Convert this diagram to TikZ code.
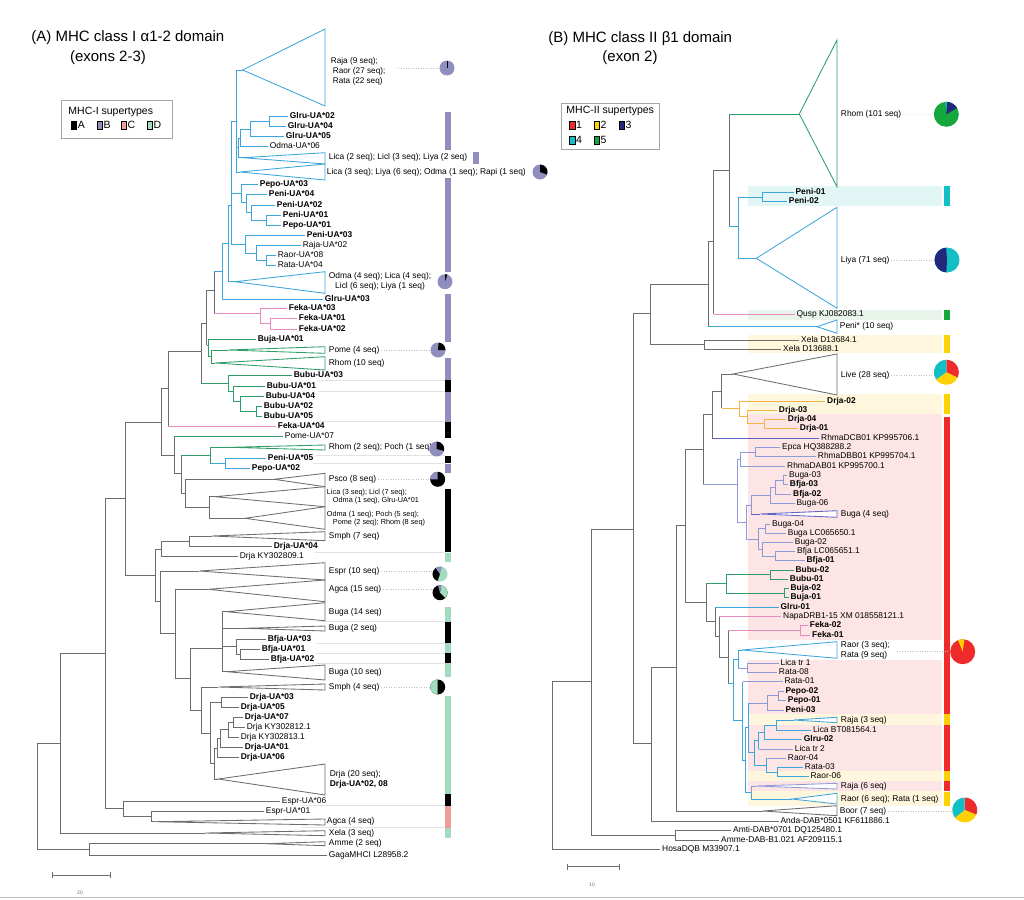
\documentclass[tikz,border=0pt]{standalone}
\usepackage{fontspec}
\setmainfont{Liberation Sans}
\newcommand{\tipfont}{\fontsize{8.4}{9.8}\selectfont}
\newcommand{\tipfonts}{\fontsize{7.3}{8.4}\selectfont}
\newcommand{\legfont}{\fontsize{10.5}{12}\selectfont}
\newcommand{\ttlfont}{\fontsize{15}{18}\selectfont}
\definecolor{tg}{HTML}{6D6D6D}
\definecolor{bl}{HTML}{3DA5DC}
\definecolor{gn}{HTML}{2E9D68}
\definecolor{pk}{HTML}{E889C0}
\definecolor{org}{HTML}{F6B34A}
\definecolor{pu}{HTML}{5F63C4}
\definecolor{lv}{HTML}{8E9AD6}
\definecolor{stB}{HTML}{8F8EBF}
\definecolor{stC}{HTML}{F29A98}
\definecolor{stD}{HTML}{A2DCBE}
\definecolor{s1}{HTML}{EE2A2A}
\definecolor{s2}{HTML}{FFD100}
\definecolor{s3}{HTML}{22297A}
\definecolor{s4}{HTML}{14BEC5}
\definecolor{s5}{HTML}{16A73C}
\definecolor{bandC}{HTML}{E3F6F6}
\definecolor{bandG}{HTML}{E9F5EA}
\definecolor{bandY}{HTML}{FFF7DD}
\definecolor{bandR}{HTML}{FDE5E5}
\tikzset{
  tip/.style={anchor=west, inner sep=1.5pt, font=\tipfont, text height=6pt, text depth=1.8pt},
  btip/.style={tip, font=\tipfont\bfseries},
  clab/.style={anchor=west, inner sep=1.5pt, font=\tipfont, align=left},
  guide/.style={gray!50, dotted, line width=0.5pt},
  rowline/.style={gray!22, line width=0.6pt},
  keybox/.style={line width=0.4pt, draw=black},
}
% branch: parent |- child in one colour
\newcommand{\edg}[3]{\draw[#1] (#2) |- (#3);}
% branch: vertical in parent colour, horizontal in child colour
\newcommand{\edgx}[4]{\draw[#1] (#3) -- (#3 |- #4); \draw[#2] (#3 |- #4) -- (#4);}
% collapsed clade: name, apex, top, bottom, colour
\newcommand{\clade}[5]{\coordinate (#1) at (#2); \draw[#5, fill=white] (#1) -- (\cladex,#3) -- (\cladex,#4) -- cycle;}
% pie slice: centre, radius, from, to, colour (0 = 3 o'clock, clockwise)
\newcommand{\pieslice}[5]{\fill[#5] (#1) -- ++(#3:#2) arc[start angle=#3, end angle=#4, radius=#2] -- cycle;}
\begin{document}
\begin{tikzpicture}[x=1pt,y=1pt,yscale=-1,line width=0.85pt]
\useasboundingbox (0,0) rectangle (1024,899);
%titles
\node[anchor=west, font=\ttlfont, inner sep=0pt] (titA) at (31,37.5) {(A) MHC class I α1-2 domain};
\node[font=\ttlfont, inner sep=0pt] (titA2) at (108,58) {(exons 2-3)};
\node[anchor=west, font=\ttlfont, inner sep=0pt] (titB) at (548,38.5) {(B) MHC class II β1 domain};
\node[font=\ttlfont, inner sep=0pt] (titB2) at (630,58) {(exon 2)};
%
%legends
\draw[gray!70, line width=1pt] (61.7,100) rectangle (172.3,138.3);
\node[anchor=west, font=\legfont, inner sep=0pt] (legAt) at (68,111.7) {MHC-I supertypes};
\foreach \c/\l/\x in {black/A/71, stB/B/96.7, stC/C/120.7, stD/D/146.7} {
    \draw[keybox, fill=\c] (\x,121.5) rectangle ++(5.5,7.5);
    \node[anchor=west, font=\legfont, inner sep=0pt] (key\l) at (\x+6.5,125.3) {\l};
}
\draw[gray!70, line width=1pt] (561.3,103.3) rectangle (659.3,149.3);
\node[anchor=west, font=\legfont, inner sep=0pt] (legBt) at (566,110.7) {MHC-II supertypes};
\foreach \c/\l/\x/\y in {s1/1/569.3/125.3, s2/2/593.7/125.3, s3/3/618.7/125.3, s4/4/569.3/140, s5/5/593.7/140} {
    \draw[keybox, fill=\c] (\x,\y-3.8) rectangle ++(5.5,7.5);
    \node[anchor=west, font=\legfont, inner sep=0pt] (key\l) at (\x+6.5,\y) {\l};
}
%
%supertype columns and row shading
\foreach \y/\x in {380/318, 391.7/318, 421.7/318, 455.7/316, 463.3/313, 552.7/315, 621.7/318, 643.3/316, 653.3/316, 663.3/316, 805.7/302, 827.7/302}
    \draw[rowline] (\x,\y) -- (445,\y);
\foreach \c/\a/\b in {stB/111.7/150, stB/178.3/271.7, stB/294/341.7, stB/358/380, black/380/391.7, stB/391.7/421.7, black/421.7/438, black/455.7/463.3, stB/464/472.7, black/489.3/551.7, stD/552.7/561.7, stD/606.7/621.7, black/621.7/643.3, stD/643.3/653.3, black/653.3/663.3, stD/663.3/676.7, stD/696/794.3, black/794.3/805.7, stC/805.7/827.7, stD/827.7/837.7}
    \fill[\c] (445,\a) rectangle (450.5,\b);
\fill[stB] (473,151.7) rectangle (479,164);
\foreach \c/\a/\b in {bandC/185.7/206, bandG/310/320, bandY/335/353, bandY/394/414, bandR/414/640, bandR/660/714, bandY/714/725, bandR/725/771, bandY/771/781, bandR/781/790.5, bandY/790.5/805.7}
    \fill[\c] (748,\a) rectangle (942,\b);
\foreach \c/\a/\b in {s4/185.7/206, s5/310/320, s2/335/353, s2/394/414, s1/416.7/714, s2/714/725, s1/725/771, s2/771/781, s1/781/790.5, s2/791.5/805.7}
    \fill[\c] (944.3,\a) rectangle (950.3,\b);
%
%tree A: tips
\def\cladex{325}
\node[btip] (glruua2) at (288,116.7) {Glru-UA*02};
\node[btip] (glruua4) at (286,126.7) {Glru-UA*04};
\node[btip] (glruua5) at (284,136.7) {Glru-UA*05};
\node[tip] (odmaua6) at (268,146.7) {Odma-UA*06};
\node[btip] (pepoua3) at (258,184.3) {Pepo-UA*03};
\node[btip] (peniua4) at (267,194.3) {Peni-UA*04};
\node[btip] (peniua2) at (275,205) {Peni-UA*02};
\node[btip] (peniua1) at (281,215) {Peni-UA*01};
\node[btip] (pepoua1) at (281,225) {Pepo-UA*01};
\node[btip] (peniua3) at (305,235.7) {Peni-UA*03};
\node[tip] (rajaua2) at (301,245.7) {Raja-UA*02};
\node[tip] (raorua8) at (276,255.7) {Raor-UA*08};
\node[tip] (rataua4) at (276,265.7) {Rata-UA*04};
\node[btip] (glruua3) at (323,299) {Glru-UA*03};
\node[btip] (fekaua3) at (287,308.7) {Feka-UA*03};
\node[btip] (fekaua1) at (297,318.7) {Feka-UA*01};
\node[btip] (fekaua2) at (297,329) {Feka-UA*02};
\node[btip] (bujaua1) at (256,339) {Buja-UA*01};
\node[btip] (bubuua3) at (292,375.7) {Bubu-UA*03};
\node[btip] (bubuua1) at (265,386) {Bubu-UA*01};
\node[btip] (bubuua4) at (264,396) {Bubu-UA*04};
\node[btip] (bubuua2) at (262,406) {Bubu-UA*02};
\node[btip] (bubuua5) at (262,416) {Bubu-UA*05};
\node[btip] (fekaua4) at (276,426.7) {Feka-UA*04};
\node[tip] (pomeua7) at (283,436.7) {Pome-UA*07};
\node[btip] (peniua5) at (266,458.3) {Peni-UA*05};
\node[btip] (pepoua2) at (250,468.3) {Pepo-UA*02};
\node[btip] (drjaua4) at (272,546.7) {Drja-UA*04};
\node[tip] (drjaky9) at (238,556.7) {Drja KY302809.1};
\node[btip] (bfjaua3) at (266,639) {Bfja-UA*03};
\node[btip] (bfjaua1) at (260,649) {Bfja-UA*01};
\node[btip] (bfjaua2) at (269,659) {Bfja-UA*02};
\node[btip] (drjaua3) at (248,697.3) {Drja-UA*03};
\node[btip] (drjaua5) at (239,707.3) {Drja-UA*05};
\node[btip] (drjaua7) at (243,717.3) {Drja-UA*07};
\node[tip] (drjaky2) at (245,727.3) {Drja KY302812.1};
\node[tip] (drjaky3) at (239,737.3) {Drja KY302813.1};
\node[btip] (drjaua1) at (243,747.3) {Drja-UA*01};
\node[btip] (drjaua6) at (239,757.3) {Drja-UA*06};
\node[tip] (esprua6) at (280,801) {Espr-UA*06};
\node[tip] (esprua1) at (264,811) {Espr-UA*01};
\node[tip] (gaga) at (327,855) {GagaMHCI L28958.2};
%collapsed clades A
\clade{tRaja}{242.7,70}{29}{106}{bl}
\clade{tLica2}{242.7,157.7}{152.7}{164}{bl}
\clade{tLica3}{240,172}{164}{180}{bl}
\clade{tOdma4}{235,281.7}{271.7}{293.3}{bl}
\clade{tPome}{228,350}{346.7}{353.3}{gn}
\clade{tRhom10}{215,363}{356.7}{370}{gn}
\clade{tRhom2}{230,447.3}{445}{450}{gn}
\clade{tPsco}{274,479.3}{473.3}{486.7}{tg}
\clade{tLica37}{215,496.7}{486.7}{506.7}{tg}
\clade{tOdma1}{245,518.3}{506.7}{529.3}{tg}
\clade{tSmph7}{211.7,536}{531.7}{540.7}{tg}
\clade{tEspr}{199.3,571}{562.7}{580}{tg}
\clade{tAgca15}{208.3,589.3}{580}{601.7}{tg}
\clade{tBuga14}{226.7,611.7}{602.7}{620.7}{tg}
\clade{tBuga2}{245,628.3}{626}{631}{tg}
\clade{tBuga10}{226.7,671.7}{665}{680}{tg}
\clade{tSmph4}{218.3,687}{684}{690}{tg}
\clade{tDrja20}{218.3,779}{764}{795}{tg}
\clade{tAgca4}{155,821.7}{819}{825}{tg}
\clade{tXela}{205,833}{830.7}{835.7}{tg}
\clade{tAmme}{265.7,843.7}{841.7}{845.7}{tg}
\node[clab, font=\fontsize{8.2}{10}\selectfont] (lRaja) at (329,71) {Raja (9 seq);\\\hspace{2pt}Raor (27 seq);\\\hspace{2pt}Rata (22 seq)};
\node[tip] (lLica2) at (327,157.7) {Lica (2 seq); Licl (3 seq); Liya (2 seq)};
\node[tip] (lLica3) at (325,172) {Lica (3 seq); Liya (6 seq); Odma (1 seq); Rapi (1 seq)};
\node[clab, align=center] (lOdma4) at (327,281.7) {Odma (4 seq); Lica (4 seq);\\Licl (6 seq); Liya (1 seq)};
\node[tip] (lPome) at (327,350) {Pome (4 seq)};
\node[tip] (lRhom10) at (327,363) {Rhom (10 seq)};
\node[tip] (lRhom2) at (327,447.3) {Rhom (2 seq); Poch (1 seq)};
\node[tip] (lPsco) at (327,479.3) {Psco (8 seq)};
\node[clab, font=\tipfonts] (lLica37) at (325,496.5) {Lica (3 seq); Licl (7 seq);\\\hspace{6pt}Odma (1 seq), Glru-UA*01};
\node[clab, font=\tipfonts] (lOdma1) at (325,518.5) {Odma (1 seq); Poch (5 seq);\\\hspace{6pt}Pome (2 seq); Rhom (8 seq)};
\node[tip] (lSmph7) at (327,536) {Smph (7 seq)};
\node[tip] (lEspr) at (327,571) {Espr (10 seq)};
\node[tip] (lAgca15) at (327,589.3) {Agca (15 seq)};
\node[tip] (lBuga14) at (327,612) {Buga (14 seq)};
\node[tip] (lBuga2) at (327,628.3) {Buga (2 seq)};
\node[tip] (lBuga10) at (327,672) {Buga (10 seq)};
\node[tip] (lSmph4) at (327,687) {Smph (4 seq)};
\node[clab, font=\fontsize{8.4}{10}\selectfont] (lDrja20) at (328,779) {Drja (20 seq);\\\textbf{Drja-UA*02, 08}};
\node[tip] (lAgca4) at (325,821.7) {Agca (4 seq)};
\node[tip] (lXela) at (327,833) {Xela (3 seq)};
\node[tip] (lAmme) at (327,843.7) {Amme (2 seq)};
%internal nodes A
\coordinate (ng1) at (269,121.7);
\coordinate (ng2) at (250,129);
\coordinate (ng3) at (240,138);
\coordinate (ng4) at (238.3,147);
\coordinate (nb5) at (236.7,121);
\coordinate (np1) at (266.7,220);
\coordinate (np2) at (251.7,212);
\coordinate (np3) at (246.7,202);
\coordinate (np4) at (241.7,193);
\coordinate (nr1) at (266.7,260.7);
\coordinate (nr2) at (256,253);
\coordinate (nr3) at (245,244);
\coordinate (nb4) at (231.7,205);
\coordinate (nb3) at (228.3,243);
\coordinate (nb2) at (222.3,271);
\coordinate (nf1) at (270,323.9);
\coordinate (nf2) at (260,313.7);
\coordinate (nk1) at (214.3,290);
\coordinate (nu2) at (211.7,356.5);
\coordinate (nu1) at (208.3,345);
\coordinate (nk2) at (206.7,323);
\coordinate (nv4) at (256,411);
\coordinate (nv3) at (240,401);
\coordinate (nv2) at (233.3,391);
\coordinate (nv1) at (228.3,383);
\coordinate (nk3) at (201,351.7);
\coordinate (nk4) at (168.3,388);
\coordinate (nm5) at (225,463.3);
\coordinate (nm3) at (210,455.3);
\coordinate (nm6) at (209.3,507.5);
\coordinate (nm4) at (185,493);
\coordinate (nm2) at (181.7,473);
\coordinate (nm1) at (174,455);
\coordinate (nk5) at (161.7,422.3);
\coordinate (ns3) at (189.3,541.3);
\coordinate (ns2) at (161.7,549);
\coordinate (ns8b) at (240.7,654);
\coordinate (ns8) at (236.7,646.5);
\coordinate (ns7) at (222.7,648);
\coordinate (nd0) at (221.7,702.3);
\coordinate (nd1) at (233.3,722.3);
\coordinate (nd2) at (228.3,729.8);
\coordinate (nd3) at (220,738.5);
\coordinate (nd4) at (217.3,748);
\coordinate (nd5) at (214.7,763.5);
\coordinate (nd6) at (210.7,733);
\coordinate (ns9) at (201,710);
\coordinate (ns6) at (190,678);
\coordinate (ns5) at (175,633.3);
\coordinate (ns4) at (160.7,601.7);
\coordinate (ns1) at (155,575);
\coordinate (nk6) at (125,498.7);
\coordinate (ne2) at (151.7,816.3);
\coordinate (ne1) at (123.3,808.7);
\coordinate (nk7) at (105,653.7);
\coordinate (nk8) at (60,743.3);
\coordinate (nk9) at (89,849.3);
\coordinate (nroot) at (37.7,796);
%branches A
\edg{bl}{ng1}{glruua2.west} \edg{bl}{ng1}{glruua4.west}
\edg{bl}{ng2}{ng1} \edg{bl}{ng2}{glruua5.west}
\edg{bl}{ng3}{ng2} \edg{bl}{ng3}{odmaua6.west}
\edg{bl}{ng4}{ng3} \edg{bl}{ng4}{tLica2}
\edg{bl}{nb5}{tRaja} \edg{bl}{nb5}{ng4} \edg{bl}{nb5}{tLica3}
\edg{bl}{np1}{peniua1.west} \edg{bl}{np1}{pepoua1.west}
\edg{bl}{np2}{peniua2.west} \edg{bl}{np2}{np1}
\edg{bl}{np3}{peniua4.west} \edg{bl}{np3}{np2}
\edg{bl}{np4}{pepoua3.west} \edg{bl}{np4}{np3}
\edg{bl}{nr1}{raorua8.west} \edg{bl}{nr1}{rataua4.west}
\edg{bl}{nr2}{rajaua2.west} \edg{bl}{nr2}{nr1}
\edg{bl}{nr3}{peniua3.west} \edg{bl}{nr3}{nr2}
\edg{bl}{nb4}{nb5} \edg{bl}{nb4}{np4} \edg{bl}{nb4}{nr3}
\edg{bl}{nb3}{nb4} \edg{bl}{nb3}{tOdma4}
\edg{bl}{nb2}{nb3} \edg{bl}{nb2}{glruua3.west}
\edg{pk}{nf1}{fekaua1.west} \edg{pk}{nf1}{fekaua2.west}
\edg{pk}{nf2}{fekaua3.west} \edg{pk}{nf2}{nf1}
\edgx{tg}{bl}{nk1}{nb2} \edgx{tg}{pk}{nk1}{nf2}
\edg{gn}{nu2}{tPome} \edg{gn}{nu2}{tRhom10}
\edg{gn}{nu1}{bujaua1.west} \edg{gn}{nu1}{nu2}
\edg{tg}{nk2}{nk1} \edgx{tg}{gn}{nk2}{nu1}
\edg{gn}{nv4}{bubuua2.west} \edg{gn}{nv4}{bubuua5.west}
\edg{gn}{nv3}{bubuua4.west} \edg{gn}{nv3}{nv4}
\edg{gn}{nv2}{bubuua1.west} \edg{gn}{nv2}{nv3}
\edg{gn}{nv1}{bubuua3.west} \edg{gn}{nv1}{nv2}
\edg{tg}{nk3}{nk2} \edgx{tg}{gn}{nk3}{nv1}
\edg{tg}{nk4}{nk3} \edgx{tg}{pk}{nk4}{fekaua4.west}
\edg{bl}{nm5}{peniua5.west} \edg{bl}{nm5}{pepoua2.west}
\edg{gn}{nm3}{tRhom2} \edgx{gn}{bl}{nm3}{nm5}
\edg{tg}{nm6}{tLica37} \edg{tg}{nm6}{tOdma1}
\edg{tg}{nm4}{tPsco} \edg{tg}{nm4}{nm6}
\edgx{tg}{gn}{nm2}{nm3} \edg{tg}{nm2}{nm4}
\edgx{tg}{gn}{nm1}{pomeua7.west} \edg{tg}{nm1}{nm2}
\edg{tg}{nk5}{nk4} \edg{tg}{nk5}{nm1}
\edg{tg}{ns3}{tSmph7} \edg{tg}{ns3}{drjaua4.west}
\edg{tg}{ns2}{ns3} \edg{tg}{ns2}{drjaky9.west}
\edg{tg}{ns8b}{bfjaua1.west} \edg{tg}{ns8b}{bfjaua2.west}
\edg{tg}{ns8}{bfjaua3.west} \edg{tg}{ns8}{ns8b}
\edg{tg}{ns7}{tBuga14} \edg{tg}{ns7}{tBuga2} \edg{tg}{ns7}{ns8} \edg{tg}{ns7}{tBuga10}
\edg{tg}{nd0}{drjaua3.west} \edg{tg}{nd0}{drjaua5.west}
\edg{tg}{nd1}{drjaua7.west} \edg{tg}{nd1}{drjaky2.west}
\edg{tg}{nd2}{nd1} \edg{tg}{nd2}{drjaky3.west}
\edg{tg}{nd3}{nd2} \edg{tg}{nd3}{drjaua1.west}
\edg{tg}{nd4}{nd3} \edg{tg}{nd4}{drjaua6.west}
\edg{tg}{nd5}{nd4} \edg{tg}{nd5}{tDrja20}
\edg{tg}{nd6}{nd0} \edg{tg}{nd6}{nd5}
\edg{tg}{ns9}{tSmph4} \edg{tg}{ns9}{nd6}
\edg{tg}{ns6}{ns7} \edg{tg}{ns6}{ns9}
\edg{tg}{ns5}{tAgca15} \edg{tg}{ns5}{ns6}
\edg{tg}{ns4}{tEspr} \edg{tg}{ns4}{ns5}
\edg{tg}{ns1}{ns2} \edg{tg}{ns1}{ns4}
\edg{tg}{nk6}{nk5} \edg{tg}{nk6}{ns1}
\edg{tg}{ne2}{esprua1.west} \edg{tg}{ne2}{tAgca4}
\edg{tg}{ne1}{esprua6.west} \edg{tg}{ne1}{ne2}
\edg{tg}{nk7}{nk6} \edg{tg}{nk7}{ne1}
\edg{tg}{nk8}{nk7} \edg{tg}{nk8}{tXela}
\edg{tg}{nk9}{tAmme} \edg{tg}{nk9}{gaga.west}
\edg{tg}{nroot}{nk8} \edg{tg}{nroot}{nk9}
%pies A
\draw[guide] (398,68.3) -- (439,68.3);
\draw[guide] (lPome.east) -- (430,350);
\draw[guide] (lPsco.east) -- (430,479.3);
\draw[guide] (lEspr.east) -- (432,571);
\draw[guide] (lAgca15.east) -- (432,589.3);
\draw[guide] (lSmph4.east) -- (430,687);
\fill[stB] (447,68) circle[radius=7.5];
\draw[black, line width=0.7pt] (447,68) -- ++(0,-7.5);
\fill[stB] (540,172) circle[radius=7.5];
\pieslice{540,172}{7.5}{-90}{20}{black}
\fill[stB] (445,281.7) circle[radius=7.5];
\pieslice{445,281.7}{7.5}{-90}{-72}{black}
\fill[stB] (438,350) circle[radius=7.5];
\pieslice{438,350}{7.5}{-85}{0}{black}
\fill[stB] (436.7,449) circle[radius=7.5];
\pieslice{436.7,449}{7.5}{-90}{15}{black}
\fill[black] (437.7,479.3) circle[radius=7.5];
\pieslice{437.7,479.3}{7.5}{180}{270}{stB}
\fill[stD] (440,574) circle[radius=7.5];
\pieslice{440,574}{7.5}{110}{235}{black}
\pieslice{440,574}{7.5}{235}{285}{stB}
\fill[black] (440,592.7) circle[radius=7.5];
\pieslice{440,592.7}{7.5}{-80}{45}{stD}
\pieslice{440,592.7}{7.5}{255}{280}{stB}
\fill[black] (437.7,687) circle[radius=7.5];
\pieslice{437.7,687}{7.5}{90}{270}{stD}
%scale A
\draw[tg] (52.3,875) -- (110,875);
\draw[tg] (52.3,872) -- (52.3,878);
\draw[tg] (110,872) -- (110,878);
\node[font=\fontsize{5}{6}\selectfont, text=tg] (scA) at (80,892.7) {20};
%
%tree B: tips
\def\cladex{837}
\node[btip] (peni1) at (793.7,192.3) {Peni-01};
\node[btip] (peni2) at (787,201.7) {Peni-02};
\node[tip] (qusp) at (794.7,314) {Qusp KJ082083.1};
\node[tip] (xela4) at (799.3,340) {Xela D13684.1};
\node[tip] (xela8) at (781.3,349) {Xela D13688.1};
\node[btip] (drja2) at (825.3,401) {Drja-02};
\node[btip] (drja3) at (777,410) {Drja-03};
\node[btip] (drja4) at (786,419.3) {Drja-04};
\node[btip] (drja1) at (798,428.3) {Drja-01};
\node[tip] (rdcb) at (819.3,438.3) {RhmaDCB01 KP995706.1};
\node[tip] (epca) at (780.3,447.3) {Epca HQ388288.2};
\node[tip] (rdbb) at (816,456.7) {RhmaDBB01 KP995704.1};
\node[tip] (rdab) at (785.3,466) {RhmaDAB01 KP995700.1};
\node[tip] (buga3) at (787.3,475.7) {Buga-03};
\node[btip] (bfja3) at (788,484.7) {Bfja-03};
\node[btip] (bfja2) at (791.3,494) {Bfja-02};
\node[tip] (buga6) at (794.7,503.3) {Buga-06};
\node[tip] (buga4) at (770.3,524) {Buga-04};
\node[tip] (bugalc) at (786,533.3) {Buga LC065650.1};
\node[tip] (buga2) at (793,542.3) {Buga-02};
\node[tip] (bfjalc) at (795.3,551.7) {Bfja LC065651.1};
\node[btip] (bfja1) at (804.7,560.7) {Bfja-01};
\node[btip] (bubu2) at (793.7,570) {Bubu-02};
\node[btip] (bubu1) at (788,579.3) {Bubu-01};
\node[btip] (buja2) at (788.7,588.3) {Buja-02};
\node[btip] (buja1) at (788.7,597.7) {Buja-01};
\node[btip] (glru1) at (778.7,607.3) {Glru-01};
\node[tip] (napa) at (781.3,616.7) {NapaDRB1-15 XM 018558121.1};
\node[btip] (feka2) at (808,625.7) {Feka-02};
\node[btip] (feka1) at (810.3,635) {Feka-01};
\node[tip] (licat1) at (778.7,663.3) {Lica tr 1};
\node[tip] (rata8) at (777,672.7) {Rata-08};
\node[tip] (rata1) at (782.7,681.7) {Rata-01};
\node[btip] (pepo2) at (783.7,691) {Pepo-02};
\node[btip] (pepo1) at (786,700.7) {Pepo-01};
\node[btip] (peni3) at (783.7,710) {Peni-03};
\node[tip] (licabt) at (811.3,730) {Lica BT081564.1};
\node[btip] (glru2) at (802,739.3) {Glru-02};
\node[tip] (licat2) at (793,749) {Lica tr 2};
\node[tip] (raor4) at (786,758.3) {Raor-04};
\node[tip] (rata3) at (803,767.7) {Rata-03};
\node[tip] (raor6) at (808.7,776.7) {Raor-06};
\node[tip] (anda) at (778.7,821) {Anda-DAB*0501 KF611886.1};
\node[tip] (amti) at (731.3,830.3) {Amti-DAB*0701 DQ125480.1};
\node[tip] (amme) at (719.3,840) {Amme-DAB-B1.021 AF209115.1};
\node[tip] (hosa) at (660.3,849) {HosaDQB M33907.1};
%collapsed clades B
\clade{tRhomB}{799.3,114}{40}{186.7}{gn}
\clade{tLiya}{756.3,258.3}{207.3}{308.3}{bl}
\clade{tPeniS}{817,326.7}{320}{333.3}{bl}
\clade{tLive}{733,374}{354}{395}{tg}
\clade{tBuga4}{760.3,514}{510.7}{517.3}{pu}
\clade{tRaor3}{742,650}{641.7}{658.3}{bl}
\clade{tRaja3}{793.7,720}{717.3}{722.7}{bl}
\clade{tRaja6}{756,786}{783.3}{789}{lv}
\clade{tRaor6}{792,799}{793.3}{804}{bl}
\clade{tBoor}{762.7,811}{805.7}{815.7}{tg}
\node[tip] (lRhomB) at (839,114) {Rhom (101 seq)};
\node[tip] (lLiya) at (839,260) {Liya (71 seq)};
\node[tip] (lPeniS) at (838,326.7) {Peni* (10 seq)};
\node[tip] (lLive) at (839,375) {Live (28 seq)};
\node[tip] (lBuga4) at (839,514) {Buga (4 seq)};
\node[clab] (lRaor3) at (839,650.3) {Raor (3 seq);\\Rata (9 seq)};
\node[tip] (lRaja3) at (839,720) {Raja (3 seq)};
\node[tip] (lRaja6) at (839,786.3) {Raja (6 seq)};
\node[tip] (lRaor6) at (839,799) {Raor (6 seq); Rata (1 seq)};
\node[tip] (lBoor) at (838,811) {Boor (7 seq)};
%internal nodes B
\coordinate (mpe) at (762,197);
\coordinate (mu5) at (738.7,226.7);
\coordinate (mu4) at (729.3,170);
\coordinate (mu3) at (713.7,241.7);
\coordinate (mu2) at (708.7,284);
\coordinate (mxe) at (704.7,344);
\coordinate (mu1) at (650.3,313.3);
\coordinate (mo3) at (764.3,423.8);
\coordinate (mo2) at (747,416);
\coordinate (mo1) at (739.7,408.3);
\coordinate (m721) at (721.7,391.7);
\coordinate (m712) at (712.3,414);
\coordinate (mp1) at (755.3,452);
\coordinate (mp2) at (740.3,459);
\coordinate (mq1) at (783.7,480);
\coordinate (mq2) at (775.3,487);
\coordinate (mq3) at (770.3,495);
\coordinate (mq4) at (751.3,505);
\coordinate (mr1) at (765.3,528.7);
\coordinate (mr2) at (775.3,556.2);
\coordinate (mr3) at (762,549);
\coordinate (mr4) at (758,539);
\coordinate (mq5) at (746,522);
\coordinate (mp3) at (737,484);
\coordinate (mh6) at (703.3,449);
\coordinate (mk0) at (770.3,574.7);
\coordinate (mk0b) at (784.7,593);
\coordinate (mk1) at (726.3,583.3);
\coordinate (mfe) at (800.3,630.3);
\coordinate (mb1) at (747,668);
\coordinate (mb2) at (738,659);
\coordinate (mc1) at (778.7,695.8);
\coordinate (mc2) at (767,703);
\coordinate (md1) at (776.3,725);
\coordinate (md2) at (764.3,732);
\coordinate (md3) at (758.7,740.5);
\coordinate (me1) at (777.7,772.2);
\coordinate (me2) at (766,765);
\coordinate (md4) at (754,752);
\coordinate (mf1) at (751.3,792.5);
\coordinate (md5) at (748.7,727);
\coordinate (mg1) at (745,760);
\coordinate (mg2) at (742.7,720);
\coordinate (mb3) at (733.7,683.3);
\coordinate (mh1) at (728.3,657);
\coordinate (mh2) at (719.3,636.7);
\coordinate (mh3) at (715.3,621.7);
\coordinate (mh4) at (706.7,602.3);
\coordinate (mh5) at (685,525.7);
\coordinate (mh7) at (676,667.7);
\coordinate (mh8) at (651.7,743.3);
\coordinate (mh9) at (633.3,529);
\coordinate (mam) at (675.3,835);
\coordinate (mh10) at (591.7,681.7);
\coordinate (mroot) at (552.7,765);
%branches B
\edg{bl}{mpe}{peni1.west} \edg{bl}{mpe}{peni2.west}
\edg{bl}{mu5}{mpe} \edg{bl}{mu5}{tLiya}
\edgx{tg}{gn}{mu4}{tRhomB} \edgx{tg}{bl}{mu4}{mu5}
\edg{tg}{mu3}{mu4} \edgx{tg}{pk}{mu3}{qusp.west}
\edg{tg}{mu2}{mu3} \edgx{tg}{bl}{mu2}{tPeniS}
\edg{tg}{mxe}{xela4.west} \edg{tg}{mxe}{xela8.west}
\edg{tg}{mu1}{mu2} \edg{tg}{mu1}{mxe}
\edg{org}{mo3}{drja4.west} \edg{org}{mo3}{drja1.west}
\edg{org}{mo2}{drja3.west} \edg{org}{mo2}{mo3}
\edg{org}{mo1}{drja2.west} \edg{org}{mo1}{mo2}
\edg{tg}{m721}{tLive} \edgx{tg}{org}{m721}{mo1}
\edg{tg}{m712}{m721} \edgx{tg}{pu}{m712}{rdcb.west}
\edg{lv}{mp1}{epca.west} \edg{lv}{mp1}{rdbb.west}
\edg{lv}{mp2}{mp1} \edg{lv}{mp2}{rdab.west}
\edg{lv}{mq1}{buga3.west} \edg{lv}{mq1}{bfja3.west}
\edg{lv}{mq2}{mq1} \edg{lv}{mq2}{bfja2.west}
\edg{lv}{mq3}{mq2} \edg{lv}{mq3}{buga6.west}
\edg{lv}{mq4}{mq3} \edgx{lv}{pu}{mq4}{tBuga4}
\edg{lv}{mr1}{buga4.west} \edg{lv}{mr1}{bugalc.west}
\edg{lv}{mr2}{bfjalc.west} \edg{lv}{mr2}{bfja1.west}
\edg{lv}{mr3}{buga2.west} \edg{lv}{mr3}{mr2}
\edg{lv}{mr4}{mr1} \edg{lv}{mr4}{mr3}
\edg{lv}{mq5}{mq4} \edg{lv}{mq5}{mr4}
\edg{lv}{mp3}{mp2} \edg{lv}{mp3}{mq5}
\edg{tg}{mh6}{m712} \edgx{tg}{lv}{mh6}{mp3}
\edg{gn}{mk0}{bubu2.west} \edg{gn}{mk0}{bubu1.west}
\edg{gn}{mk0b}{buja2.west} \edg{gn}{mk0b}{buja1.west}
\edg{gn}{mk1}{mk0} \edg{gn}{mk1}{mk0b}
\edg{pk}{mfe}{feka2.west} \edg{pk}{mfe}{feka1.west}
\edg{lv}{mb1}{licat1.west} \edg{lv}{mb1}{rata8.west}
\edg{bl}{mb2}{tRaor3} \edgx{bl}{lv}{mb2}{mb1}
\edg{lv}{mc1}{pepo2.west} \edg{lv}{mc1}{pepo1.west}
\edg{lv}{mc2}{mc1} \edg{lv}{mc2}{peni3.west}
\edg{bl}{md1}{tRaja3} \edg{bl}{md1}{licabt.west}
\edg{bl}{md2}{md1} \edg{bl}{md2}{glru2.west}
\edg{bl}{md3}{md2} \edgx{bl}{lv}{md3}{licat2.west}
\edg{bl}{me1}{rata3.west} \edg{bl}{me1}{raor6.west}
\edgx{bl}{lv}{me2}{raor4.west} \edg{bl}{me2}{me1}
\edg{bl}{md4}{md3} \edg{bl}{md4}{me2}
\edg{lv}{mf1}{tRaja6} \edg{bl}{mf1}{tRaor6}
\edgx{bl}{lv}{md5}{mc2} \edg{bl}{md5}{md4}
\edg{bl}{mg1}{md5} \edg{bl}{mg1}{mf1}
\edgx{bl}{lv}{mg2}{rata1.west} \edg{bl}{mg2}{mg1}
\edg{bl}{mb3}{mb2} \edg{bl}{mb3}{mg2}
\edgx{tg}{pk}{mh1}{mfe} \edgx{tg}{bl}{mh1}{mb3}
\edgx{tg}{pk}{mh2}{napa.west} \edg{tg}{mh2}{mh1}
\edgx{tg}{bl}{mh3}{glru1.west} \edg{tg}{mh3}{mh2}
\edgx{tg}{gn}{mh4}{mk1} \edg{tg}{mh4}{mh3}
\edg{tg}{mh5}{mh6} \edg{tg}{mh5}{mh4}
\edg{tg}{mh7}{mh5} \edg{tg}{mh7}{tBoor}
\edg{tg}{mh8}{mh7} \edg{tg}{mh8}{anda.west}
\edg{tg}{mh9}{mu1} \edg{tg}{mh9}{mh8}
\edg{tg}{mam}{amti.west} \edg{tg}{mam}{amme.west}
\edg{tg}{mh10}{mh9} \edg{tg}{mh10}{mam}
\edg{tg}{mroot}{mh10} \edg{tg}{mroot}{hosa.west}
%pies B
\draw[guide] (lRhomB.east) -- (933,114.3);
\draw[guide] (lLiya.east) -- (934,260);
\draw[guide] (lLive.east) -- (933,375);
\draw[guide] (897,651.7) -- (950,651.7);
\draw[guide] (lBoor.east) -- (952,811);
\fill[s5] (946.3,114.3) circle[radius=12.5];
\pieslice{946.3,114.3}{12.5}{-95}{-86}{s4}
\pieslice{946.3,114.3}{12.5}{-86}{-30}{s3}
\fill[s4] (947,260) circle[radius=12.5];
\pieslice{947,260}{12.5}{93}{266}{s3}
\pieslice{946.3,372.3}{12.5}{-90}{25}{s1}
\pieslice{946.3,372.3}{12.5}{25}{145}{s2}
\pieslice{946.3,372.3}{12.5}{145}{270}{s4}
\fill[s1] (962.7,651.7) circle[radius=12.5];
\pieslice{962.7,651.7}{12.5}{-112}{-82}{s2}
\pieslice{964.7,810}{12.5}{-90}{22}{s1}
\pieslice{964.7,810}{12.5}{22}{142}{s2}
\pieslice{964.7,810}{12.5}{142}{270}{s4}
%scale B
\draw[tg] (567,866.7) -- (619.3,866.7);
\draw[tg] (567,863.7) -- (567,869.7);
\draw[tg] (619.3,863.7) -- (619.3,869.7);
\node[font=\fontsize{5}{6}\selectfont, text=tg] (scB) at (592,884.3) {10};
\draw[gray!55, line width=1pt] (0,897) -- (1024,897);
\end{tikzpicture}
\end{document}
